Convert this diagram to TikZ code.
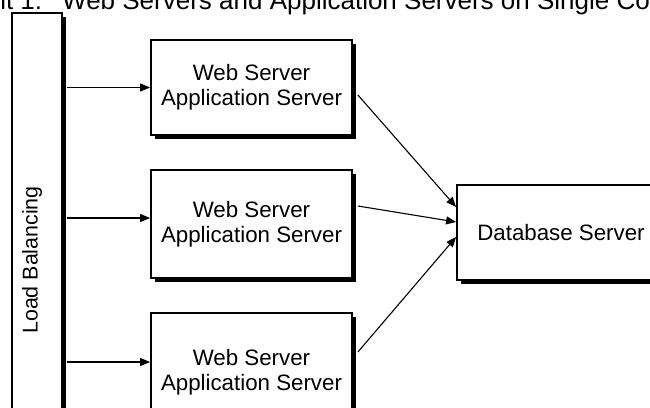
\documentclass[tikz,border=0pt]{standalone}
\usepackage{fontspec}
\setmainfont{Liberation Sans}
\usetikzlibrary{shadows,arrows.meta}
\begin{document}
\begin{tikzpicture}[x=1pt,y=-1pt,
  box/.style={draw=black,line width=1.8pt,fill=white,rectangle,inner sep=0pt,
    align=center,font=\fontsize{22.3}{25}\selectfont,
    drop shadow={shadow xshift=4pt,shadow yshift=-4pt,opacity=1,fill=black}},
  arr/.style={line width=1.1pt,-{Triangle[length=10pt,width=8pt]}},
  lbl/.style={font=\fontsize{22.3}{25}\selectfont,inner sep=0pt}]
\useasboundingbox (0,0) rectangle (650,407);
\clip (0,0) rectangle (650,407);
% title (clipped at top)
\node[anchor=base west,inner sep=0pt,font=\fontsize{26}{30}\selectfont] (title) at (62,9)
  {\llap{it 1:\hspace{20pt}}Web Servers and Application Servers on Single Computers};
% load balancing bar
\node[box,minimum width=50pt,minimum height=420pt] (LB) at (37,223) {};
\node[lbl,rotate=90,font=\fontsize{21.4}{25}\selectfont] (lbtext) at (32,260) {Load Balancing};
% web/app servers
\node[box,minimum width=201pt,minimum height=95pt] (W1) at (251.5,87.5) {Web Server\\Application Server};
\node[box,minimum width=201pt,minimum height=108pt] (W2) at (251.5,224) {Web Server\\Application Server};
\node[box,minimum width=201pt,minimum height=118pt] (W3) at (251.5,372) {};
\node[lbl,align=center] (W3t) at (251.5,372) {Web Server\\Application Server};
% database
\node[box,minimum width=208pt,minimum height=95pt] (DB) at (561,232.5) {Database Server};
% arrows from load balancer
\draw[arr] ([xshift=4pt]LB.east |- W1.west) -- (W1.west);
\draw[arr] ([xshift=4pt,yshift=6pt]LB.east |- W2.west) -- ([yshift=6pt]W2.west);
\draw[arr] ([xshift=4pt,yshift=10pt]LB.east |- W3.west) -- ([yshift=10pt]W3.west);
% arrows to database
\draw[arr] ([xshift=5pt,yshift=-7.5pt]W1.east) -- ([yshift=25.5pt]DB.west);
\draw[arr] ([xshift=5pt,yshift=18pt]W2.east) -- ([yshift=10.5pt]DB.west);
\draw[arr] ([xshift=5pt,yshift=20pt]W3.east) -- ([yshift=-4.5pt]DB.west);
\end{tikzpicture}
\end{document}
